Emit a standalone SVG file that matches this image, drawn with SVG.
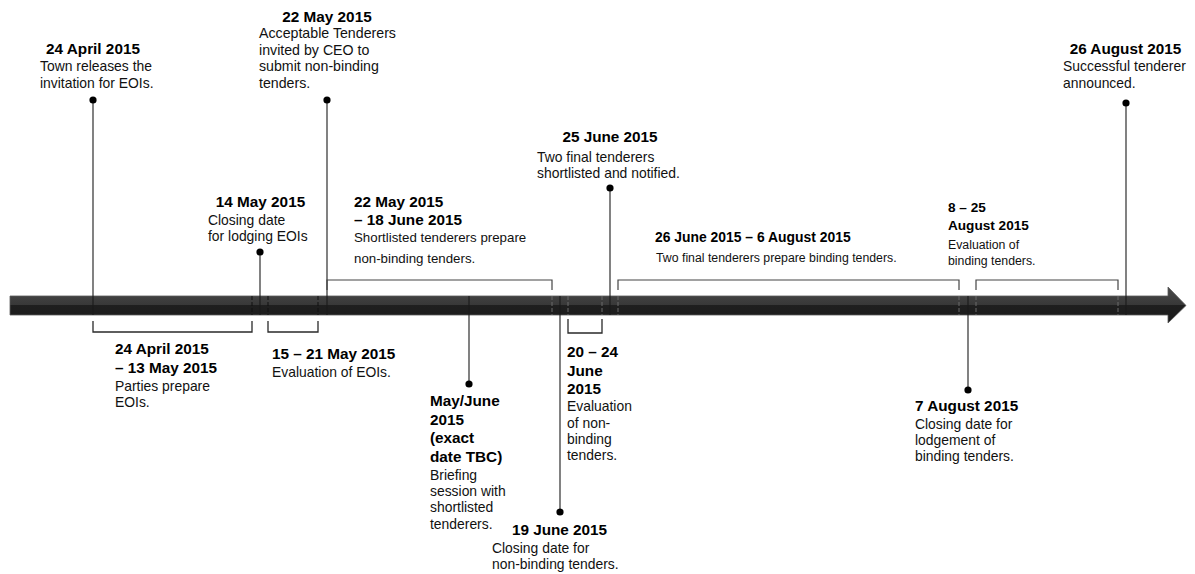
<svg xmlns="http://www.w3.org/2000/svg" width="1195" height="574" viewBox="0 0 1195 574">
<defs>
<linearGradient id="barg" x1="0" y1="0" x2="0" y2="1">
<stop offset="0" stop-color="#4a4a4a"/>
<stop offset="0.5" stop-color="#383838"/>
<stop offset="0.5" stop-color="#1f1f1f"/>
<stop offset="1" stop-color="#1a1a1a"/>
</linearGradient>
</defs>
<style>
text{font-family:"Liberation Sans",Arial,sans-serif;}
.t{font-weight:bold;font-size:15.3px;fill:#000;}
.b{font-size:13.9px;fill:#111;}
.m{text-anchor:middle;}
.ln{stroke:#1a1a1a;stroke-width:1.1;fill:none;}
.br{stroke:#2a2a2a;stroke-width:1.3;fill:none;}
.bu{stroke:#444;stroke-width:1.2;fill:none;}
.dk{stroke:#111;stroke-width:1;stroke-dasharray:4 2;}
.dg{stroke:#6a6a6a;stroke-width:1;stroke-dasharray:4 2;}
.dot{fill:#000;}
</style>
<rect width="1195" height="574" fill="#fff"/>
<g id="timeline">
<polygon points="10,296 1168,296 1168,287 1186,305.5 1168,323 1168,315 10,315" fill="url(#barg)" stroke="#5a5a5a" stroke-width="0.8"/>
</g>
<g id="connectors">
<line class="dk" x1="252" y1="296" x2="252" y2="315"/>
<line class="dk" x1="268" y1="296" x2="268" y2="315"/>
<line class="dk" x1="318" y1="296" x2="318" y2="315"/>
<line class="dg" x1="552" y1="296" x2="552" y2="315"/>
<line class="dg" x1="568" y1="296" x2="568" y2="315"/>
<line class="dg" x1="602" y1="296" x2="602" y2="315"/>
<line class="dg" x1="618" y1="296" x2="618" y2="315"/>
<line class="dg" x1="959" y1="296" x2="959" y2="315"/>
<line class="dg" x1="976" y1="296" x2="976" y2="315"/>
<line class="dg" x1="1118" y1="296" x2="1118" y2="315"/>
<line class="ln" x1="93" y1="100" x2="93" y2="315"/>
<line class="ln" x1="327" y1="100" x2="327" y2="315"/>
<line class="ln" x1="260" y1="252" x2="260" y2="315"/>
<line class="ln" x1="610" y1="188" x2="610" y2="315" stroke="#333"/>
<line class="ln" x1="1126" y1="103" x2="1126" y2="315"/>
<line class="ln" x1="469" y1="296" x2="469" y2="384"/>
<line class="ln" x1="560" y1="296" x2="560" y2="512"/>
<line class="ln" x1="968" y1="296" x2="968" y2="390"/>
<path class="bu" d="M327,290 V280 H552 V290"/>
<path class="bu" d="M618,290 V280 H959 V290"/>
<path class="bu" d="M976,290 V280 H1118 V290"/>
<path class="br" d="M93,321 V332 H252 V321"/>
<path class="br" d="M268,321 V332 H318 V321"/>
<path class="br" d="M568,319 V333 H602 V319"/>
</g>
<g id="n-24apr">
<circle class="dot" cx="93" cy="100" r="3.6"/>
<text class="t m" x="93" y="53.5">24 April 2015</text>
<text class="b"><tspan x="40" y="71">Town releases the</tspan><tspan x="40" y="87.5">invitation for EOIs.</tspan></text>
</g>
<g id="n-22may">
<circle class="dot" cx="327" cy="100" r="3.6"/>
<text class="t m" x="327" y="21.5">22 May 2015</text>
<text class="b" style="font-size:14.2px"><tspan x="259" y="38">Acceptable Tenderers</tspan><tspan x="259" y="54.5">invited by CEO to</tspan><tspan x="259" y="71">submit non-binding</tspan><tspan x="259" y="87.5">tenders.</tspan></text>
</g>
<g id="n-14may">
<circle class="dot" cx="260" cy="252" r="3.6"/>
<text class="t m" x="260.5" y="207">14 May 2015</text>
<text class="b"><tspan x="208" y="224.5">Closing date</tspan><tspan x="208" y="240.5">for lodging EOIs</tspan></text>
</g>
<g id="n-22may-18jun">
<text class="t"><tspan x="354" y="207">22 May 2015</tspan><tspan x="354" y="224.5">– 18 June 2015</tspan></text>
<text class="b" style="font-size:13.3px"><tspan x="354" y="242">Shortlisted tenderers prepare</tspan><tspan x="354" y="263">non-binding tenders.</tspan></text>
</g>
<g id="n-25jun">
<circle class="dot" cx="610" cy="188" r="3.6"/>
<text class="t m" x="610" y="141.5">25 June 2015</text>
<text class="b"><tspan x="537" y="162">Two final tenderers</tspan><tspan x="537" y="178">shortlisted and notified.</tspan></text>
</g>
<g id="n-26jun-6aug">
<text class="t" x="655" y="242" style="font-size:13.9px">26 June 2015 – 6 August 2015</text>
<text class="b" x="656" y="262" style="font-size:12.3px">Two final tenderers prepare binding tenders.</text>
</g>
<g id="n-8-25aug">
<text class="t" style="font-size:13.6px"><tspan x="948" y="212">8 – 25</tspan><tspan x="948" y="230">August 2015</tspan></text>
<text class="b" style="font-size:12.3px"><tspan x="948" y="248.5">Evaluation of</tspan><tspan x="948" y="265">binding tenders.</tspan></text>
</g>
<g id="n-26aug">
<circle class="dot" cx="1126" cy="103" r="3.6"/>
<text class="t m" x="1125.5" y="53.5">26 August 2015</text>
<text class="b"><tspan x="1063" y="71">Successful tenderer</tspan><tspan x="1063" y="87.5">announced.</tspan></text>
</g>
<g id="n-24apr-13may">
<text class="t"><tspan x="115" y="354">24 April 2015</tspan><tspan x="115" y="372.5">– 13 May 2015</tspan></text>
<text class="b"><tspan x="115" y="390.5">Parties prepare</tspan><tspan x="115" y="406.5">EOIs.</tspan></text>
</g>
<g id="n-15-21may">
<text class="t" x="272" y="359">15 – 21 May 2015</text>
<text class="b" x="272" y="377">Evaluation of EOIs.</text>
</g>
<g id="n-mayjune">
<circle class="dot" cx="469" cy="384" r="3.6"/>
<text class="t"><tspan x="430" y="406">May/June</tspan><tspan x="430" y="424.5">2015</tspan><tspan x="430" y="443">(exact</tspan><tspan x="430" y="461.5">date TBC)</tspan></text>
<text class="b"><tspan x="430" y="480">Briefing</tspan><tspan x="430" y="496">session with</tspan><tspan x="430" y="512">shortlisted</tspan><tspan x="430" y="528.5">tenderers.</tspan></text>
</g>
<g id="n-20-24jun">
<text class="t"><tspan x="567" y="357">20 – 24</tspan><tspan x="567" y="375.5">June</tspan><tspan x="567" y="394">2015</tspan></text>
<text class="b"><tspan x="567" y="411">Evaluation</tspan><tspan x="567" y="427.5">of non-</tspan><tspan x="567" y="443.5">binding</tspan><tspan x="567" y="460">tenders.</tspan></text>
</g>
<g id="n-19jun">
<circle class="dot" cx="560" cy="512" r="3.6"/>
<text class="t m" x="559.5" y="535">19 June 2015</text>
<text class="b"><tspan x="492" y="553">Closing date for</tspan><tspan x="492" y="569">non-binding tenders.</tspan></text>
</g>
<g id="n-7aug">
<circle class="dot" cx="968" cy="390" r="3.6"/>
<text class="t" x="915" y="411">7 August 2015</text>
<text class="b"><tspan x="915" y="428.5">Closing date for</tspan><tspan x="915" y="444.5">lodgement of</tspan><tspan x="915" y="461">binding tenders.</tspan></text>
</g>
</svg>
